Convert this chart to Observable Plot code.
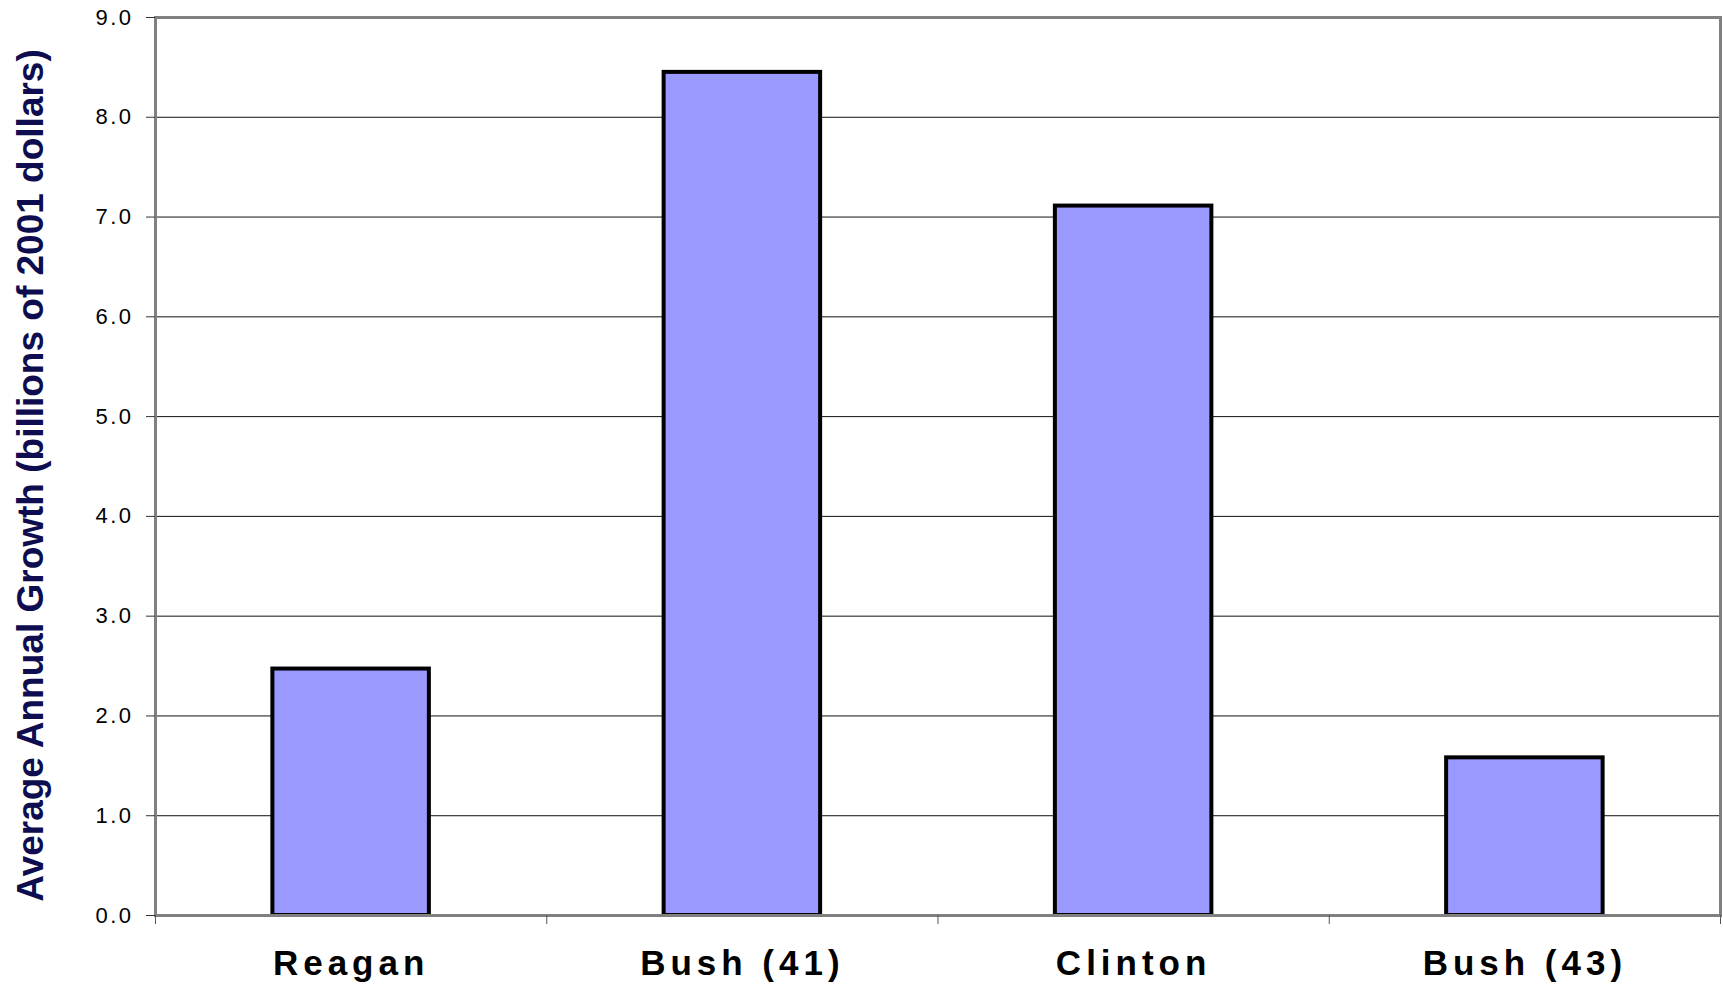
<!DOCTYPE html>
<html><head><meta charset="utf-8">
<script src="https://cdn.jsdelivr.net/npm/d3@7"></script>
<script src="https://cdn.jsdelivr.net/npm/@observablehq/plot@0.6"></script>
<style>
html,body{margin:0;padding:0;background:#fff;overflow:hidden}
#chart svg{display:block}
g[aria-label="y-axis tick label"] text{letter-spacing:2.5px}
g[aria-label="x-axis tick label"] text{letter-spacing:5px}
</style></head><body><div id="chart"></div>
<script>
const presidents = ["Reagan", "Bush (41)", "Clinton", "Bush (43)"];
const growth = [2.47, 8.45, 7.11, 1.58];
const yTicks = [0, 1, 2, 3, 4, 5, 6, 7, 8, 9];
const yTitle = "Average Annual Growth (billions of 2001 dollars)";

const data = presidents.map((p, i) => ({president: p, index: i, value: growth[i]}));
const boundaries = d3.range(presidents.length + 1);
const centers = presidents.map((p, i) => i + 0.5);

const chart = Plot.plot({
  width: 1723, height: 987,
  marginTop: 17, marginRight: 3, marginBottom: 72, marginLeft: 155,
  style: {fontFamily: '"Liberation Sans", Arial, sans-serif', background: "#fff", color: "#000"},
  x: {domain: [0, presidents.length]},
  y: {domain: [0, 9]},
  marks: [
    Plot.gridY(yTicks, {stroke: "#111", strokeOpacity: 1, strokeWidth: 1}),
    Plot.rectY(data, {x1: d => d.index + 0.3, x2: d => d.index + 0.7, y: "value", fill: "#9999FF", stroke: "#000", strokeWidth: 4}),
    Plot.frame({stroke: "#808080", strokeWidth: 3}),
    Plot.axisY({ticks: yTicks, tickFormat: d => d.toFixed(1), tickSize: 9, tickPadding: 13, fontSize: 22, label: null, stroke: "#333"}),
    Plot.axisX({ticks: boundaries, tickFormat: () => "", tickSize: 9, label: null, stroke: "#555"}),
    Plot.axisX({ticks: centers, tickFormat: d => presidents[Math.floor(d)], tickSize: 0, tickPadding: 35, fontSize: 35, fontWeight: "bold", label: null}),
    Plot.text([yTitle], {text: d => d, frameAnchor: "left", textAnchor: "middle", rotate: -90, dx: -124, dy: 9, fontSize: 37, fontWeight: "bold", fill: "#0d0d50"})
  ]
});
document.getElementById("chart").append(chart);
</script></body></html>
